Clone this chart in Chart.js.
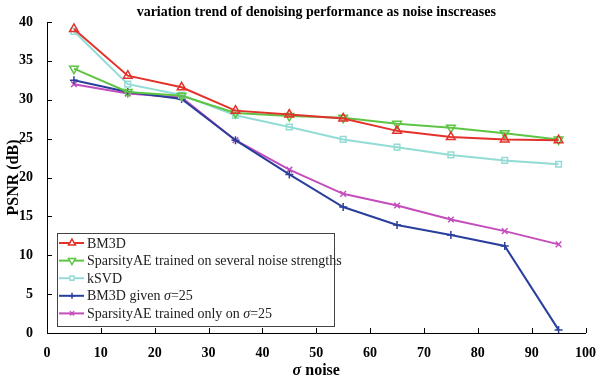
<!DOCTYPE html>
<html>
<head>
<meta charset="utf-8">
<script src="https://cdn.jsdelivr.net/npm/chart.js@4/dist/chart.umd.min.js"></script>
<style>
  html, body { margin: 0; padding: 0; background: #fff; }
  #wrap { width: 600px; height: 382px; position: relative; }
</style>
</head>
<body>
<div id="wrap"><canvas id="chart"></canvas></div>
<script>
const noiseLevels = [5, 15, 25, 35, 45, 55, 65, 75, 85, 95];
const bm3d = [39.1, 33.1, 31.6, 28.6, 28.1, 27.6, 26.0, 25.2, 24.9, 24.8];
const sparsityMulti = [34.0, 31.0, 30.5, 28.3, 27.9, 27.7, 26.9, 26.4, 25.7, 24.9];
const ksvd = [38.8, 32.0, 30.6, 28.0, 26.5, 24.9, 23.9, 22.9, 22.2, 21.7];
const bm3dFixed = [32.5, 31.0, 30.1, 24.8, 20.4, 16.2, 13.9, 12.6, 11.2, 0.4];
const sparsityFixed = [32.0, 30.8, 30.3, 24.8, 21.0, 17.9, 16.4, 14.6, 13.1, 11.4];
const xTicks = [0, 10, 20, 30, 40, 50, 60, 70, 80, 90, 100];
const yTicks = [0, 5, 10, 15, 20, 25, 30, 35, 40];

const serif = "'Liberation Serif', 'DejaVu Serif', serif";

const series = [
  { label: ["BM3D"], data: bm3d, color: "#e3312b", style: "triangle", rot: 0, r: 5 },
  { label: ["SparsityAE trained on several noise strengths"], data: sparsityMulti, color: "#5ec444", style: "triangle", rot: 180, r: 5 },
  { label: ["kSVD"], data: ksvd, color: "#93dcd6", style: "rect", rot: 0, r: 4 },
  { label: ["BM3D given ", "σ", "=25"], data: bm3dFixed, color: "#2a3e9c", style: "cross", rot: 0, r: 4 },
  { label: ["SparsityAE trained only on ", "σ", "=25"], data: sparsityFixed, color: "#c44dbd", style: "crossRot", rot: 0, r: 4 }
];

const datasets = series.map(s => ({
  label: s.label.join(""),
  data: s.data.map((v, i) => ({ x: noiseLevels[i], y: v })),
  borderColor: s.color,
  backgroundColor: "rgba(255,255,255,0)",
  borderWidth: 2,
  pointStyle: s.style,
  pointRotation: s.rot,
  pointRadius: s.r,
  pointBorderWidth: 1.5,
  pointBorderColor: s.color,
  pointBackgroundColor: "rgba(255,255,255,0)",
  tension: 0
}));

// text made of pieces; a lone "σ" piece is set in italics
function drawMixed(ctx, parts, x, y, size, bold, align) {
  const fonts = parts.map(p => (p === "σ" ? "italic " : "") + (bold ? "bold " : "") + size + "px " + serif);
  let total = 0;
  parts.forEach((p, i) => { ctx.font = fonts[i]; total += ctx.measureText(p).width; });
  let cx = align === "center" ? x - total / 2 : x;
  ctx.textAlign = "left";
  parts.forEach((p, i) => {
    ctx.font = fonts[i];
    ctx.fillText(p, cx, y);
    cx += ctx.measureText(p).width;
  });
}

const decorPlugin = {
  id: "decor",
  afterDraw(chart) {
    const ctx = chart.ctx;
    const xs = chart.scales.x, ys = chart.scales.y;
    const area = chart.chartArea;
    ctx.save();
    ctx.strokeStyle = "#000";
    ctx.lineWidth = 1;
    // inward ticks
    ctx.beginPath();
    xTicks.forEach(t => {
      const px = Math.round(xs.getPixelForValue(t)) + 0.5;
      ctx.moveTo(px, area.bottom);
      ctx.lineTo(px, area.bottom - 5);
    });
    yTicks.forEach(t => {
      const py = Math.round(ys.getPixelForValue(t)) + 0.5;
      ctx.moveTo(area.left, py);
      ctx.lineTo(area.left + 5, py);
    });
    ctx.stroke();

    ctx.fillStyle = "#000";
    ctx.textBaseline = "middle";
    drawMixed(ctx, ["variation trend of denoising performance as noise inscreases"], (area.left + area.right) / 2, 12, 14, true, "center");
    drawMixed(ctx, ["σ", " noise"], (area.left + area.right) / 2, 371, 16, true, "center");
    ctx.translate(14, (area.top + area.bottom) / 2);
    ctx.rotate(-Math.PI / 2);
    drawMixed(ctx, ["PSNR (dB)"], 0, 0, 16, true, "center");
    ctx.restore();

    // legend
    ctx.save();
    const bx = 57, by = 233, bw = 277, bh = 93;
    ctx.fillStyle = "#fff";
    ctx.fillRect(bx, by, bw, bh);
    ctx.strokeStyle = "#444";
    ctx.lineWidth = 1;
    ctx.strokeRect(bx + 0.5, by + 0.5, bw, bh);
    series.forEach((s, i) => {
      const ry = 243 + i * 17.6;
      ctx.strokeStyle = s.color;
      ctx.lineWidth = 2;
      ctx.beginPath();
      ctx.moveTo(bx + 2, ry);
      ctx.lineTo(bx + 27, ry);
      ctx.stroke();
      ctx.fillStyle = "#fff";
      ctx.lineWidth = 1.5;
      Chart.helpers.drawPoint(ctx, { pointStyle: s.style, rotation: s.rot, radius: s.r - 1, borderWidth: 1.5 }, bx + 15, ry);
      ctx.fillStyle = "#222";
      ctx.textBaseline = "middle";
      drawMixed(ctx, s.label, bx + 30, ry + 1, 14, false, "left");
    });
    ctx.restore();
  }
};

new Chart(document.getElementById("chart"), {
  type: "line",
  data: { datasets: datasets },
  options: {
    responsive: true,
    maintainAspectRatio: false,
    animation: false,
    layout: { padding: { top: 22, right: 13, left: 0, bottom: 0 } },
    plugins: { legend: { display: false }, title: { display: false }, tooltip: { enabled: false } },
    scales: {
      x: {
        type: "linear",
        min: 0, max: 100,
        afterFit: scale => { scale.height = 49; },
        afterBuildTicks: scale => { scale.ticks = xTicks.map(v => ({ value: v })); },
        grid: { display: false },
        border: { display: true, color: "#000", width: 1 },
        ticks: { color: "#000", padding: 4, maxRotation: 0, font: { family: serif, size: 14, weight: "bold" } }
      },
      y: {
        min: 0, max: 40,
        afterFit: scale => { scale.width = 47; },
        afterBuildTicks: scale => { scale.ticks = yTicks.map(v => ({ value: v })); },
        grid: { display: false },
        border: { display: true, color: "#000", width: 1 },
        ticks: { color: "#000", padding: 6, font: { family: serif, size: 14, weight: "bold" } }
      }
    }
  },
  plugins: [decorPlugin]
});
</script>
</body>
</html>
